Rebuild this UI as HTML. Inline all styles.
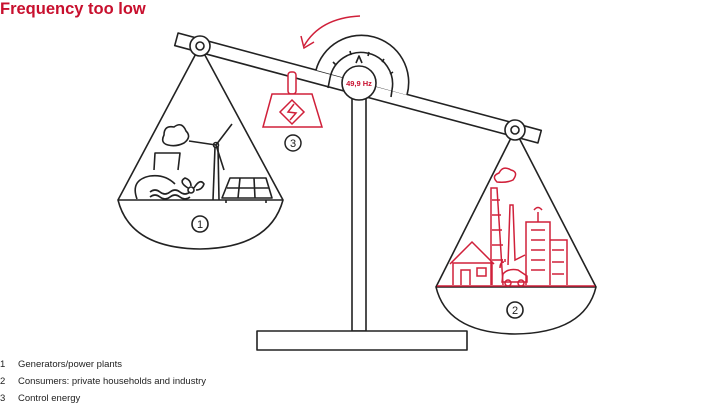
<!DOCTYPE html>
<html><head><meta charset="utf-8"><style>
body{margin:0;width:720px;height:404px;background:#fff;overflow:hidden;font-family:"Liberation Sans",sans-serif}
svg{position:absolute;left:0;top:0}
</style></head><body>
<svg width="720" height="404" viewBox="0 0 720 404">
<text x="0" y="14" font-size="16.5" font-weight="bold" fill="#c8102e" font-family="Liberation Sans">Frequency too low</text>
<g fill="none" stroke="#222" stroke-width="1.6" stroke-linejoin="round">
<rect x="352" y="98" width="14" height="233" fill="#fff"/>
<rect x="257" y="331" width="210" height="19" fill="#fff"/>
<g transform="translate(358,88) rotate(15)">
<rect x="-188" y="-6.5" width="376" height="13" fill="#fff"/>
</g>
<path d="M316,70 A47,47 0 0 1 407,95 Z" fill="#fff" stroke="none"/>
<path d="M316,70 A47,47 0 0 1 407,95"/>
<path d="M330,78 A31,31 0 0 1 392,90"/>
<path d="M330,78 L328,88 M392,90 L391,97"/>
<circle cx="359" cy="83" r="17" fill="#fff"/>
<path d="M356,63 L359,56 L362,63"/>
<line x1="333" y1="62" x2="336" y2="65"/><line x1="350" y1="51" x2="351" y2="55"/><line x1="369" y1="52" x2="368" y2="56"/><line x1="384" y1="59" x2="382" y2="62"/><line x1="393" y1="72" x2="390" y2="74"/>
<line x1="200" y1="46" x2="118" y2="200"/><line x1="200" y1="46" x2="283" y2="200"/>
<path d="M118,200 L283,200 Q270,248 200,249 Q130,248 118,200Z" fill="#fff"/>
<circle cx="200" cy="46" r="10" fill="#fff"/><circle cx="200" cy="46" r="4"/>
<circle cx="200" cy="224" r="8"/>
<path d="M154,170 L155,153 L180,153 L178,170"/>
<path d="M137,199 Q130,180 150,176 Q165,174 175,184"/>
<path d="M150,192 q5,-4 10,0 q5,4 10,0 q5,-4 10,0 q5,4 10,0 M150,197 q5,-4 10,0 q5,4 10,0 q5,-4 10,0 q5,4 10,0"/>
<path d="M168,145 q-8,-2 -4,-10 q0,-10 10,-8 q8,-6 12,4 q6,6 -2,12 q-8,4 -16,2z"/>
<circle cx="191" cy="190" r="3"/><path d="M188,188 q-10,-6 -3,-10 q6,2 6,8 M194,188 q6,-10 10,-4 q-2,6 -8,6"/>
<line x1="215" y1="147" x2="213" y2="200"/><line x1="218" y1="147" x2="219" y2="200"/>
<circle cx="216" cy="145" r="2.5"/><path d="M216,145 L232,124 M216,145 L189,141 M216,145 L224,170"/>
<path d="M222,198 L230,178 L266,178 L272,198Z M227,188 L269,188 M240,178 L238,198 M254,178 L255,198"/>
<line x1="226" y1="200" x2="226" y2="203"/><line x1="266" y1="200" x2="266" y2="203"/>
<line x1="515" y1="130" x2="436" y2="287"/><line x1="515" y1="130" x2="596" y2="287"/>
<path d="M436,287 L596,287 Q585,333 515,334 Q447,333 436,287Z" fill="#fff"/>
<circle cx="515" cy="130" r="10" fill="#fff"/><circle cx="515" cy="130" r="4"/>
<circle cx="515" cy="310" r="8"/>
</g>
<g fill="none" stroke="#d0203a" stroke-width="1.5">
<path d="M437,286 L595,286"/>
<path d="M453,285 L453,263 L492,263 L492,285 M450,264 L472,242 L494,264 M461,285 L461,270 L470,270 L470,285 M477,268 L486,268 L486,276 L477,276Z"/>
<path d="M491,285 L491,188 L497,188 L503,285 M492,200 L500,200 M492,215 L501,215 M492,230 L502,230 M492,245 L503,245 M492,260 L503,260"/>
<path d="M497,182 q-6,-6 2,-9 q4,-8 12,-3 q8,2 2,10 q-6,3 -16,2z"/>
<path d="M508,265 L510,205 L513,205 L515,260 L525,255"/>
<path d="M526,285 L526,222 L550,222 L550,285 M531,230 L545,230 M531,240 L545,240 M531,250 L545,250 M531,260 L545,260 M531,270 L545,270 M538,222 L538,212 M534,210 q4,-5 8,0"/>
<path d="M550,240 L567,240 L567,285 M552,250 L564,250 M552,262 L564,262 M552,274 L564,274"/>
<path d="M502,282 L503,274 Q508,268 518,270 L527,276 L527,282Z"/><circle cx="508" cy="283" r="3"/><circle cx="521" cy="283" r="3"/>
<path d="M500,268 q0,-6 4,-6 M502,262 l0,-3 M505,262 l0,-3"/>
<rect x="288" y="72" width="8" height="22" rx="3" fill="#fff"/>
<path d="M272,94 L312,94 L322,127 L263,127Z" fill="#fff"/>
<path d="M292,100 L304,112 L292,124 L280,112Z"/>
<path d="M294,104 L288,112 L296,113 L290,120"/>
<path d="M360,16 Q320,18 304,46"/>
<path d="M301,36 L304,48 L314,42"/>
</g>
<circle cx="293" cy="143" r="8" fill="none" stroke="#222" stroke-width="1.5"/>
<g font-family="Liberation Sans" font-size="11" fill="#222" text-anchor="middle">
<text x="200" y="228">1</text><text x="515" y="314">2</text><text x="293" y="147">3</text>
</g>
<text x="359" y="86" font-size="7.5" font-weight="bold" fill="#c8102e" text-anchor="middle" font-family="Liberation Sans">49,9 Hz</text>
<g font-family="Liberation Sans" font-size="9.5" fill="#222">
<text x="0" y="367">1</text><text x="18" y="367">Generators/power plants</text>
<text x="0" y="384">2</text><text x="18" y="384">Consumers: private households and industry</text>
<text x="0" y="401">3</text><text x="18" y="401">Control energy</text>
</g>
</svg>
</body></html>
